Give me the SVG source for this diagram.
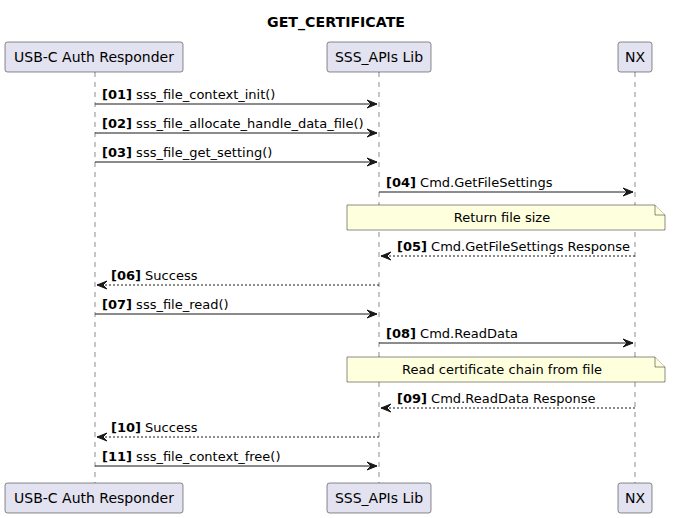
<svg xmlns="http://www.w3.org/2000/svg" width="673" height="518" viewBox="0 0 673 518">
<style>
text{font-family:"DejaVu Sans","Liberation Sans",sans-serif;fill:#000}
.part rect{fill:#E2E2F0;stroke:#181818;stroke-width:0.5}
.part text{font-size:14px;text-anchor:middle}
.life{stroke:#181818;stroke-width:0.5;stroke-dasharray:5,5}
.msg{stroke:#181818;stroke-width:1;fill:none}
.dash{stroke-dasharray:2,2}
.head{fill:#181818;stroke:#181818;stroke-width:1}
.lbl{font-size:13px}
.num{font-weight:bold}
.note path{fill:#FEFFDD;stroke:#181818;stroke-width:0.5}
.note text{font-size:13px;text-anchor:middle}
</style>
<rect width="673" height="518" fill="#FFFFFF"/>
<text x="267" y="27" font-size="14" font-weight="bold" textLength="138" lengthAdjust="spacingAndGlyphs">GET_CERTIFICATE</text>
<g id="lifelines">
<line class="life" x1="95" y1="72" x2="95" y2="483"/>
<line class="life" x1="379" y1="72" x2="379" y2="483"/>
<line class="life" x1="635" y1="72" x2="635" y2="483"/>
</g>
<g id="usb" class="part">
<rect x="5" y="42" width="178" height="30" rx="2.5"/>
<text x="94" y="62">USB-C Auth Responder</text>
<rect x="5" y="483" width="178" height="30" rx="2.5"/>
<text x="94" y="503">USB-C Auth Responder</text>
</g>
<g id="sss" class="part">
<rect x="327" y="42" width="104" height="30" rx="2.5"/>
<text x="379" y="62">SSS_APIs Lib</text>
<rect x="327" y="483" width="104" height="30" rx="2.5"/>
<text x="379" y="503">SSS_APIs Lib</text>
</g>
<g id="nx" class="part">
<rect x="618" y="42" width="34" height="30" rx="2.5"/>
<text x="635" y="62">NX</text>
<rect x="618" y="483" width="34" height="30" rx="2.5"/>
<text x="635" y="503">NX</text>
</g>
<g id="note1" class="note">
<path d="M347,205 L655,205 L665,215 L665,230 L347,230 Z"/>
<path d="M655,205 L655,215 L665,215"/>
<text x="502" y="222">Return file size</text>
</g>
<g id="note2" class="note">
<path d="M347,357 L655,357 L665,367 L665,382 L347,382 Z"/>
<path d="M655,357 L655,367 L665,367"/>
<text x="502" y="374">Read certificate chain from file</text>
</g>
<g id="connectors">
<line class="msg" x1="95" y1="104" x2="377" y2="104"/>
<polygon class="head" points="367,100 377,104 367,108 371,104"/>
<text class="lbl" x="102" y="99"><tspan class="num">[01]</tspan> sss_file_context_init()</text>

<line class="msg" x1="95" y1="133" x2="377" y2="133"/>
<polygon class="head" points="367,129 377,133 367,137 371,133"/>
<text class="lbl" x="102" y="128"><tspan class="num">[02]</tspan> sss_file_allocate_handle_data_file()</text>

<line class="msg" x1="95" y1="162" x2="377" y2="162"/>
<polygon class="head" points="367,158 377,162 367,166 371,162"/>
<text class="lbl" x="102" y="157"><tspan class="num">[03]</tspan> sss_file_get_setting()</text>

<line class="msg" x1="379" y1="192" x2="633" y2="192"/>
<polygon class="head" points="623,188 633,192 623,196 627,192"/>
<text class="lbl" x="386" y="187"><tspan class="num">[04]</tspan> Cmd.GetFileSettings</text>

<line class="msg dash" x1="381" y1="256" x2="635" y2="256"/>
<polygon class="head" points="391,252 381,256 391,260 387,256"/>
<text class="lbl" x="397" y="251"><tspan class="num">[05]</tspan> Cmd.GetFileSettings Response</text>

<line class="msg dash" x1="97" y1="285" x2="379" y2="285"/>
<polygon class="head" points="107,281 97,285 107,289 103,285"/>
<text class="lbl" x="111" y="280"><tspan class="num">[06]</tspan> Success</text>

<line class="msg" x1="95" y1="314" x2="377" y2="314"/>
<polygon class="head" points="367,310 377,314 367,318 371,314"/>
<text class="lbl" x="102" y="309"><tspan class="num">[07]</tspan> sss_file_read()</text>

<line class="msg" x1="379" y1="343" x2="633" y2="343"/>
<polygon class="head" points="623,339 633,343 623,347 627,343"/>
<text class="lbl" x="386" y="338"><tspan class="num">[08]</tspan> Cmd.ReadData</text>

<line class="msg dash" x1="381" y1="408" x2="635" y2="408"/>
<polygon class="head" points="391,404 381,408 391,412 387,408"/>
<text class="lbl" x="397" y="403"><tspan class="num">[09]</tspan> Cmd.ReadData Response</text>

<line class="msg dash" x1="97" y1="437" x2="379" y2="437"/>
<polygon class="head" points="107,433 97,437 107,441 103,437"/>
<text class="lbl" x="111" y="432"><tspan class="num">[10]</tspan> Success</text>

<line class="msg" x1="95" y1="466" x2="377" y2="466"/>
<polygon class="head" points="367,462 377,466 367,470 371,466"/>
<text class="lbl" x="102" y="461"><tspan class="num">[11]</tspan> sss_file_context_free()</text>
</g>
</svg>
